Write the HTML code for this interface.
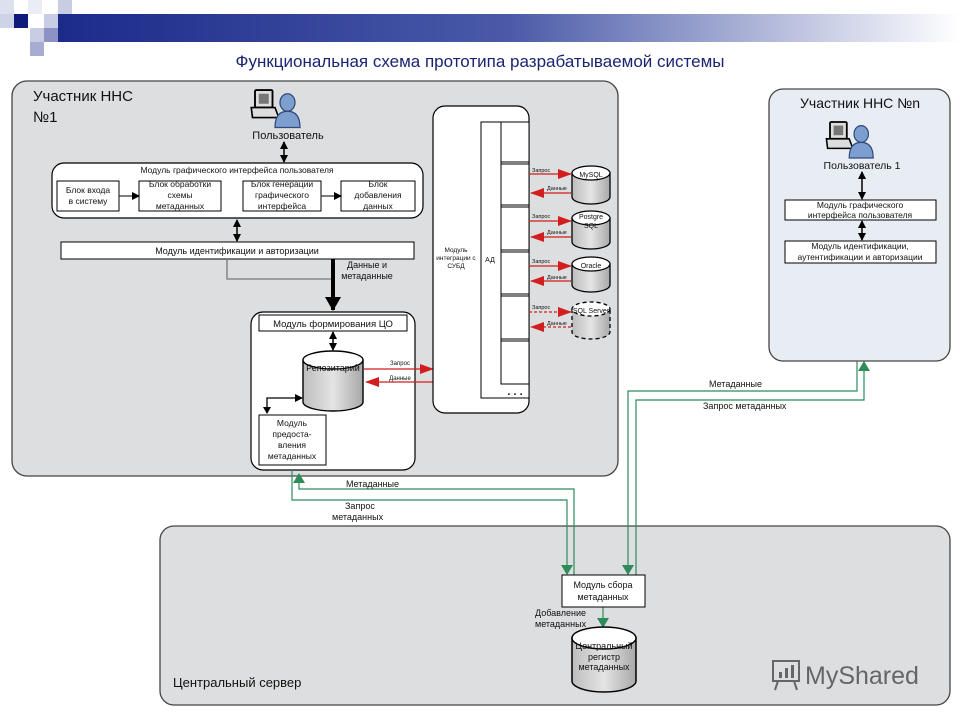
<!DOCTYPE html>
<html><head><meta charset="utf-8"><style>
html,body{margin:0;padding:0;background:#fff}
svg{display:block}
text{font-family:"Liberation Sans","DejaVu Sans",sans-serif;fill:#111}
</style></head><body>
<svg width="960" height="720" viewBox="0 0 960 720" xmlns="http://www.w3.org/2000/svg">
<defs>
<linearGradient id="hb" x1="0" x2="1" y1="0" y2="0">
<stop offset="0" stop-color="#1c2a8a"/><stop offset="0.5" stop-color="#4a5aa8"/><stop offset="1" stop-color="#ffffff"/>
</linearGradient>
<linearGradient id="cyl" x1="0" x2="1"><stop offset="0" stop-color="#bdbdbd"/><stop offset="0.5" stop-color="#e4e4e4"/><stop offset="1" stop-color="#a8a8a8"/></linearGradient>
<marker id="ab" markerWidth="8" markerHeight="8" refX="7" refY="4" orient="auto-start-reverse" markerUnits="userSpaceOnUse"><path d="M0,0 L8,4 L0,8z" fill="#000"/></marker>
<marker id="ar" markerWidth="14" markerHeight="10" refX="13" refY="5" orient="auto" markerUnits="userSpaceOnUse"><path d="M0,0 L14,5 L0,10z" fill="#d21e1e"/></marker>
<marker id="ag" markerWidth="10" markerHeight="12" refX="9" refY="6" orient="auto" markerUnits="userSpaceOnUse"><path d="M0,0 L10,6 L0,12z" fill="#2e8b5a"/></marker>
<marker id="abig" markerWidth="14" markerHeight="16" refX="13" refY="8" orient="auto" markerUnits="userSpaceOnUse"><path d="M0,0 L14,8 L0,16z" fill="#000"/></marker>
<g id="user">
<rect x="0" y="0" width="14" height="14" fill="#ddd" stroke="#000" stroke-width="1.5" rx="1"/>
<rect x="3" y="3" width="8" height="8" fill="#777"/>
<path d="M-3,14 L16,14 L19,22 L-2,22z" fill="#ddd" stroke="#000" stroke-width="1.3"/>
<ellipse cx="26" cy="10" rx="6" ry="7" fill="#7d9fd0" stroke="#2e4a7a"/>
<path d="M16,30 Q16,17 26,17 Q36,17 36,30z" fill="#7d9fd0" stroke="#2e4a7a"/>
</g>
</defs>

<rect x="58" y="14" width="902" height="28" fill="url(#hb)"/>
<rect x="0" y="0" width="14" height="14" fill="#dde0ee"/>
<rect x="14" y="14" width="14" height="14" fill="#0f1a7a"/>
<rect x="0" y="14" width="14" height="14" fill="#cfd3e6"/>
<rect x="28" y="0" width="14" height="14" fill="#ebedf5"/>
<rect x="58" y="0" width="14" height="14" fill="#c9cde3"/>
<rect x="44" y="14" width="14" height="14" fill="#c9cde3"/>
<rect x="30" y="28" width="14" height="14" fill="#c9cde3"/>
<rect x="44" y="28" width="14" height="14" fill="#8c93c4"/>
<rect x="30" y="42" width="14" height="14" fill="#a7acd2"/>
<text x="480" y="67" font-size="17" text-anchor="middle" style="fill:#1a2470">Функциональная схема прототипа разрабатываемой системы</text>

<rect x="12" y="81" width="606" height="395" rx="15" fill="#dcdedf" stroke="#444" stroke-width="1.3"/>
<rect x="769" y="89" width="181" height="272" rx="14" fill="#e7edf3" stroke="#444" stroke-width="1.3"/>
<rect x="160" y="526" width="790" height="179" rx="14" fill="#dcdedf" stroke="#444" stroke-width="1.3"/>

<text x="33" y="101" font-size="15">Участник ННС</text>
<text x="33" y="122" font-size="15">№1</text>

<use href="#user" transform="translate(255,90) scale(1.25)"/>
<text x="288" y="139" font-size="11" text-anchor="middle">Пользователь</text>
<line x1="284" y1="142" x2="284" y2="162" stroke="#000" stroke-width="1.5" marker-end="url(#ab)" marker-start="url(#ab)"/>

<rect x="52" y="163" width="371" height="55" rx="12" fill="#fff" stroke="#000" stroke-width="1.2"/>
<text x="237" y="173" font-size="8.5" text-anchor="middle">Модуль графического интерфейса пользователя</text>
<g font-size="8.5" text-anchor="middle">
<rect x="57" y="181" width="62" height="30" fill="#fff" stroke="#000"/>
<text x="88" y="193">Блок входа</text><text x="88" y="204">в систему</text>
<rect x="139" y="181" width="82" height="30" fill="#fff" stroke="#000"/>
<text x="180" y="187">Блок обработки</text><text x="180" y="198">схемы</text><text x="180" y="209">метаданных</text>
<rect x="243" y="181" width="78" height="30" fill="#fff" stroke="#000"/>
<text x="282" y="187">Блок генерации</text><text x="282" y="198">графического</text><text x="282" y="209">интерфейса</text>
<rect x="341" y="181" width="74" height="30" fill="#fff" stroke="#000"/>
<text x="378" y="187">Блок</text><text x="378" y="198">добавления</text><text x="378" y="209">данных</text>
</g>
<line x1="119" y1="196" x2="139" y2="196" stroke="#333" stroke-width="1.3" marker-end="url(#ab)"/>
<line x1="321" y1="196" x2="341" y2="196" stroke="#333" stroke-width="1.3" marker-end="url(#ab)"/>
<line x1="237" y1="220" x2="237" y2="241" stroke="#000" stroke-width="1.5" marker-end="url(#ab)" marker-start="url(#ab)"/>

<rect x="61" y="242" width="353" height="17" fill="#fff" stroke="#000"/>
<text x="237" y="254" font-size="9" text-anchor="middle">Модуль идентификации и авторизации</text>
<polyline points="227,259 227,279 333,279" fill="none" stroke="#777" stroke-width="1.3"/>
<line x1="333" y1="259" x2="333" y2="310" stroke="#000" stroke-width="4" marker-end="url(#abig)"/>
<text x="367" y="268" font-size="9" text-anchor="middle">Данные и</text>
<text x="367" y="279" font-size="9" text-anchor="middle">метаданные</text>

<rect x="251" y="312" width="164" height="158" rx="12" fill="#fff" stroke="#000" stroke-width="1.2"/>
<rect x="259" y="315" width="148" height="16" fill="#fff" stroke="#000"/>
<text x="333" y="327" font-size="9.5" text-anchor="middle">Модуль формирования ЦО</text>
<line x1="333" y1="332" x2="333" y2="350" stroke="#000" stroke-width="1.5" marker-end="url(#ab)" marker-start="url(#ab)"/>
<path d="M303,360 L303,402 A30,9 0 0 0 363,402 L363,360z" fill="url(#cyl)" stroke="#000" stroke-width="1.4"/>
<ellipse cx="333" cy="360" rx="30" ry="9" fill="#fff" stroke="#000" stroke-width="1.4"/>
<text x="333" y="371" font-size="9" text-anchor="middle">Репозитарий</text>
<polyline points="267,413 267,398 302,398" fill="none" stroke="#000" stroke-width="1.3" marker-end="url(#ab)"/>
<path d="M263,407 L267,414 L271,407z" fill="#000"/>
<rect x="259" y="415" width="67" height="50" fill="#fff" stroke="#000"/>
<g font-size="8.5" text-anchor="middle"><text x="292" y="426">Модуль</text><text x="292" y="437">предоста-</text><text x="292" y="448">вления</text><text x="292" y="459">метаданных</text></g>
<line x1="364" y1="369" x2="433" y2="369" stroke="#d21e1e" stroke-width="1.2" marker-end="url(#ar)"/>
<line x1="433" y1="382" x2="366" y2="382" stroke="#d21e1e" stroke-width="1.2" marker-end="url(#ar)"/>
<text x="400" y="365" font-size="6" text-anchor="middle">Запрос</text>
<text x="400" y="380" font-size="6" text-anchor="middle">Данные</text>

<rect x="433" y="106" width="96" height="307" rx="12" fill="#fff" stroke="#000" stroke-width="1.2"/>
<rect x="481" y="122" width="48" height="276" fill="#fff" stroke="#000"/>
<line x1="501" y1="122" x2="501" y2="384" stroke="#000"/>
<g fill="#fff" stroke="#000">
<rect x="501" y="122" width="28" height="40"/><rect x="501" y="164" width="28" height="41"/>
<rect x="501" y="207" width="28" height="43"/><rect x="501" y="252" width="28" height="42"/>
<rect x="501" y="296" width="28" height="43"/><rect x="501" y="341" width="28" height="43"/>
</g>
<text x="515" y="395" font-size="11" text-anchor="middle" font-weight="bold">. . .</text>
<g font-size="6.5" text-anchor="middle"><text x="456" y="252">Модуль</text><text x="456" y="260">интеграции с</text><text x="456" y="268">СУБД</text></g>
<text x="490" y="262" font-size="7" text-anchor="middle">АД</text>

<g stroke="#000" stroke-width="1.3">
<path d="M572,173 L572,197 A19,7 0 0 0 610,197 L610,173z" fill="url(#cyl)"/><ellipse cx="591" cy="173" rx="19" ry="7" fill="#fff"/>
<path d="M572,218 L572,242 A19,7 0 0 0 610,242 L610,218z" fill="url(#cyl)"/><ellipse cx="591" cy="218" rx="19" ry="7" fill="#fff"/>
<path d="M572,264 L572,285 A19,7 0 0 0 610,285 L610,264z" fill="url(#cyl)"/><ellipse cx="591" cy="264" rx="19" ry="7" fill="#fff"/>
<g stroke-dasharray="4,3"><path d="M572,309 L572,332 A19,7 0 0 0 610,332 L610,309z" fill="url(#cyl)"/><ellipse cx="591" cy="309" rx="19" ry="7" fill="#fff"/></g>
</g>
<g font-size="7" text-anchor="middle"><text x="591" y="177">MySQL</text><text x="591" y="219">Postgre</text><text x="591" y="228">SQL</text><text x="591" y="268">Oracle</text><text x="591" y="313">SQL Server</text></g>
<g stroke="#d21e1e" stroke-width="1.2">
<line x1="529" y1="174" x2="571" y2="174" marker-end="url(#ar)"/><line x1="571" y1="193" x2="531" y2="193" marker-end="url(#ar)"/>
<line x1="529" y1="221" x2="571" y2="221" marker-end="url(#ar)"/><line x1="571" y1="237" x2="531" y2="237" marker-end="url(#ar)"/>
<line x1="529" y1="266" x2="571" y2="266" marker-end="url(#ar)"/><line x1="571" y1="281" x2="531" y2="281" marker-end="url(#ar)"/>
<g stroke-dasharray="3,2"><line x1="529" y1="312" x2="571" y2="312" marker-end="url(#ar)"/><line x1="571" y1="327" x2="531" y2="327" marker-end="url(#ar)"/></g>
</g>
<g font-size="5.5"><text x="532" y="172">Запрос</text><text x="547" y="190">Данные</text><text x="532" y="218">Запрос</text><text x="547" y="234">Данные</text><text x="532" y="263">Запрос</text><text x="547" y="279">Данные</text><text x="532" y="309">Запрос</text><text x="547" y="325">Данные</text></g>

<text x="860" y="108" font-size="14" text-anchor="middle">Участник ННС №n</text>
<use href="#user" transform="translate(830,122) scale(1.2)"/>
<text x="862" y="169" font-size="10.5" text-anchor="middle">Пользователь 1</text>
<line x1="862" y1="172" x2="862" y2="199" stroke="#000" stroke-width="1.5" marker-end="url(#ab)" marker-start="url(#ab)"/>
<rect x="785" y="200" width="151" height="20" fill="#fff" stroke="#000"/>
<text x="860" y="208" font-size="8.5" text-anchor="middle">Модуль графического</text>
<text x="860" y="218" font-size="8.5" text-anchor="middle">интерфейса пользователя</text>
<line x1="862" y1="221" x2="862" y2="240" stroke="#000" stroke-width="1.5" marker-end="url(#ab)" marker-start="url(#ab)"/>
<rect x="785" y="241" width="151" height="22" fill="#fff" stroke="#000"/>
<text x="860" y="249" font-size="8.5" text-anchor="middle">Модуль идентификации,</text>
<text x="860" y="260" font-size="8.5" text-anchor="middle">аутентификации и авторизации</text>

<g fill="none" stroke="#2e8b5a" stroke-width="1.2">
<polyline points="574,575 574,489 299,489 299,474" marker-end="url(#ag)"/>
<polyline points="292,470 292,500 567,500 567,574" marker-end="url(#ag)"/>
<polyline points="857,361 857,391 628,391 628,574" marker-end="url(#ag)"/>
<polyline points="636,575 636,400 864,400 864,362" marker-end="url(#ag)"/>
<line x1="603" y1="607" x2="603" y2="627" marker-end="url(#ag)"/>
</g>
<g font-size="9"><text x="346" y="487">Метаданные</text><text x="345" y="509">Запрос</text><text x="332" y="520">метаданных</text>
<text x="709" y="387">Метаданные</text><text x="703" y="409">Запрос метаданных</text>
<text x="535" y="616">Добавление</text><text x="535" y="627">метаданных</text></g>

<rect x="562" y="575" width="83" height="32" fill="#fff" stroke="#000"/>
<text x="603" y="588" font-size="9" text-anchor="middle">Модуль сбора</text>
<text x="603" y="600" font-size="9" text-anchor="middle">метаданных</text>
<path d="M572,638 L572,681 A32,11 0 0 0 636,681 L636,638z" fill="url(#cyl)" stroke="#000" stroke-width="1.5"/>
<ellipse cx="604" cy="638" rx="32" ry="11" fill="#fff" stroke="#000" stroke-width="1.5"/>
<g font-size="9" text-anchor="middle"><text x="604" y="649">Центральный</text><text x="604" y="660">регистр</text><text x="604" y="670">метаданных</text></g>
<text x="173" y="687" font-size="13">Центральный сервер</text>

<g fill="none" stroke="#666" stroke-width="2"><rect x="773" y="661" width="26" height="20"/><line x1="778" y1="681" x2="775" y2="690"/><line x1="794" y1="681" x2="797" y2="690"/></g>
<rect x="779" y="672" width="3" height="6" fill="#666"/><rect x="785" y="668" width="3" height="10" fill="#666"/><rect x="791" y="665" width="3" height="13" fill="#666"/>
<text x="805" y="684" font-size="25" style="fill:#666">MyShared</text>
</svg>
</body></html>
